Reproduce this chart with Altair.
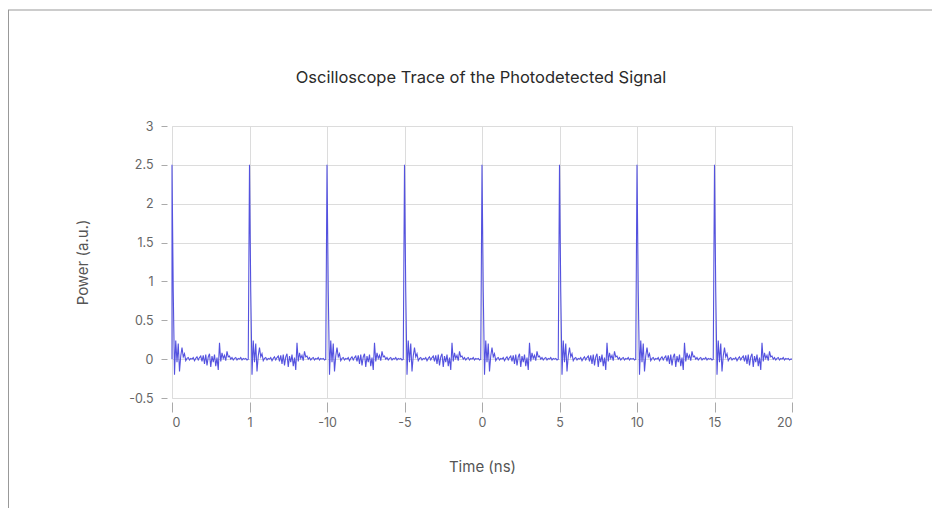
import json
import altair as alt
import pandas as pd

# ---- data ----
# one pulse period (62 samples per period, period = 1 axis unit), repeated for each pulse
period_values = [
    2.50, 0.87, -0.20, 0.24, -0.04, 0.20, -0.16, 0.04, 0.15, 0.03,
    0.07, -0.02, 0.01, 0.02, -0.01, 0.01, 0.00, 0.02, -0.02, 0.01,
    0.03, -0.01, 0.02, 0.04, -0.03, 0.05, -0.06, 0.06, -0.08, 0.03,
    0.07, -0.10, 0.04, -0.04, 0.06, -0.09, 0.02, -0.14, 0.21, -0.03,
    0.08, 0.01, 0.05, -0.02, 0.10, 0.03, 0.04, 0.00, 0.02, -0.01,
    0.01, 0.02, -0.01, 0.01, 0.00, 0.02, -0.01, 0.01, 0.00, 0.01,
    -0.01, 0.00,
]
n_pulses = 8
start_value = 0.0
end_value = 0.0
x_tick_labels = ["0", "1", "-10", "-5", "0", "5", "10", "15", "20"]
y_ticks = [-0.5, 0, 0.5, 1, 1.5, 2, 2.5, 3]
title_text = "Oscilloscope Trace of the Photodetected Signal"

# ---- build table ----
xs, ys = [0.0], [start_value]
n = len(period_values)
for k in range(n_pulses):
    for i, v in enumerate(period_values):
        xs.append(k + i / n)
        ys.append(v)
xs.append(float(n_pulses))
ys.append(end_value)
df = pd.DataFrame({"t": xs, "p": ys, "order": range(len(xs))})

label_expr = json.dumps(x_tick_labels) + "[round(datum.value)]"
FONT = "Inter"

line = alt.Chart(df).mark_line(color="#5452df", strokeWidth=1.1).encode(
    x=alt.X(
        "t:Q",
        scale=alt.Scale(domain=[0, 8], nice=False, zero=False),
        axis=alt.Axis(
            title="Time (ns)",
            values=list(range(len(x_tick_labels))),
            labelExpr=label_expr,
            grid=True,
            gridColor="#dcdcdc",
            domain=False,
            ticks=True,
            tickColor="#aaaaaa",
            tickSize=10,
            offset=4,
            labelPadding=4,
            labelFont=FONT,
            labelFontSize=12.5,
            labelColor="#666666",
            titleFont=FONT,
            titleFontSize=15,
            titleFontWeight="normal",
            titleColor="#555555",
            titlePadding=31,
        ),
    ),
    y=alt.Y(
        "p:Q",
        scale=alt.Scale(domain=[-0.5, 3], nice=False, zero=False),
        axis=alt.Axis(
            title="Power (a.u.)",
            values=y_ticks,
            labelExpr="'' + datum.value",
            grid=True,
            gridColor="#dcdcdc",
            domain=False,
            ticks=True,
            tickColor="#aaaaaa",
            tickSize=6,
            offset=5,
            labelPadding=8,
            labelFont=FONT,
            labelFontSize=12.5,
            labelColor="#666666",
            titleFont=FONT,
            titleFontSize=15,
            titleFontWeight="normal",
            titleColor="#555555",
            titlePadding=38,
        ),
    ),
    order="order:Q",
)

frame = alt.Data(values=[{}])
border_top = alt.Chart(frame).mark_rule(color="#999999", strokeWidth=1).encode(
    x=alt.value(-164), x2=alt.value(790), y=alt.value(-116)
)
border_left = alt.Chart(frame).mark_rule(color="#999999", strokeWidth=1).encode(
    x=alt.value(-163.5), y=alt.value(-116), y2=alt.value(420)
)
title = alt.Chart(frame).mark_text(
    font=FONT, fontSize=16.5, fontWeight="normal", color="#2a2a2a",
    align="center", baseline="middle",
).encode(x=alt.value(309), y=alt.value(-48), text=alt.value(title_text))

chart = (
    alt.layer(border_top, border_left, title, line)
    .properties(
        width=620,
        height=272,
        autosize=alt.AutoSizeParams(type="none"),
        padding={"left": 164, "top": 118, "right": 140, "bottom": 110},
    )
    .configure_view(strokeOpacity=0)
    .configure(background="white")
)

chart.save("out.html", embed_options={"renderer": "svg", "actions": False})
